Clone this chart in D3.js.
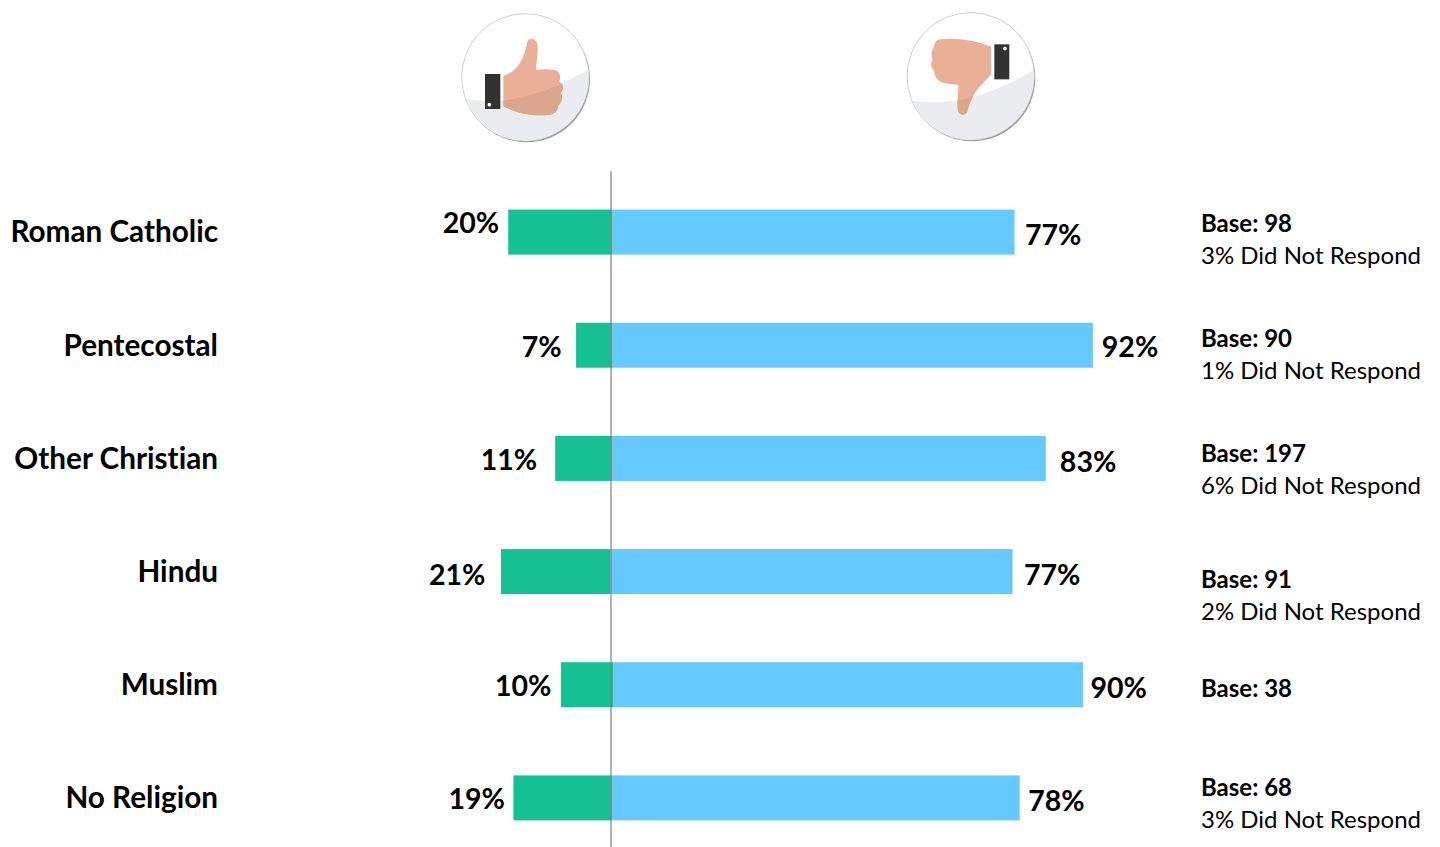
<!DOCTYPE html>
<html>
<head>
<meta charset="utf-8">
<title>Approval by religious group</title>
<script src="https://cdn.jsdelivr.net/npm/d3@7"></script>
<style>
  html, body { margin: 0; padding: 0; background: #fff; overflow: hidden; }
  svg { display: block; }
  text { font-family: Lato, "Open Sans", sans-serif; fill: #000; font-variant-ligatures: none; }
</style>
</head>
<body>
<svg id="chart" width="1440" height="847"></svg>
<script>
// Survey results
const categories = ["Roman Catholic", "Pentecostal", "Other Christian", "Hindu", "Muslim", "No Religion"];
const approve = [20, 7, 11, 21, 10, 19];
const disapprove = [77, 92, 83, 77, 90, 78];
const bases = [98, 90, 197, 91, 38, 68];
const noResponse = [3, 1, 6, 2, null, 3];

// Hand-placed label adjustments, one per row
const approveLabelShift = [[-9, -9], [-14.5, 2], [-18, 2], [-15.5, 3], [-9.5, 1], [-8.5, 1]];
const disapproveLabelShift = [[10.5, 3], [9, 2], [14, 4], [11.5, 3], [7.5, 3], [8.5, 3]];
const noteCentre = [239.5, 354.5, 469.5, 595.5, 688.5, 803.5];
const baselineNudge = [0, 0, 0, -2, 0.5, 0];

const svg = d3.select("#chart");
const zeroX = 612.6;
const pxPerPoint = 5.22;
const x = d3.scaleLinear().domain([-100, 100]).range([zeroX - 100 * pxPerPoint, zeroX + 100 * pxPerPoint]);
const y = d3.scaleBand().domain(categories).range([175.5, 854.5]).paddingInner(0.6).paddingOuter(0.3);
const bandH = 45;
const rowY = c => y(c) + y.bandwidth() / 2 - bandH / 2;

const defs = svg.append("defs");
defs.append("filter").attr("id", "soft").append("feGaussianBlur").attr("stdDeviation", 1.6);

// Thumb icons, drawn in a 170×160 box at triple scale
function icon(g, cx, cy, hand, cuff, dot, shade, id) {
  defs.append("clipPath").attr("id", id).append("path").attr("d", shade);
  defs.append("clipPath").attr("id", id + "-disc").append("circle").attr("cx", cx).attr("cy", cy).attr("r", 190);
  g.attr("filter", "url(#soft)");
  g.append("circle").attr("cx", cx + 4).attr("cy", cy + 5).attr("r", 190).attr("fill", "#9d9d9d");
  g.append("circle").attr("cx", cx).attr("cy", cy).attr("r", 191).attr("fill", "#fff").attr("stroke", "#c4c4c4").attr("stroke-width", 2.5);
  g.append("path").attr("d", shade).attr("fill", "#eaecef").attr("clip-path", `url(#${id}-disc)`);
  g.append("path").attr("d", hand).attr("fill", "#e9b097");
  g.append("path").attr("d", hand).attr("fill", "#dca68e").attr("clip-path", `url(#${id})`);
  g.append("rect").attr("x", cuff[0]).attr("y", cuff[1]).attr("width", cuff[2]).attr("height", cuff[3]).attr("fill", "#333");
  g.append("circle").attr("cx", dot[0]).attr("cy", dot[1]).attr("r", 5.5).attr("fill", "#fff");
}

const up = svg.append("g").attr("transform", "translate(440,-1) scale(0.3333)");
icon(up, 256, 235,
  "M190,231 C225,218 250,193 262,128 C265,116 285,115 292,133 C296,163 288,193 288,213 C310,209 340,211 350,215 C362,221 362,238 358,248 C372,253 372,273 362,281 C370,293 365,313 355,318 C355,333 345,348 320,348 C270,353 220,338 190,321 Z",
  [135, 225, 46, 105], [148, 317],
  "M70,298 C190,323 320,288 450,208 L450,443 L70,443 Z", "shade-up");

const down = svg.append("g").attr("transform", "translate(890,-1) scale(0.3333)");
icon(down, 242, 232,
  "M303,143 C260,123 190,115 150,121 C130,125 135,143 128,153 C120,163 128,178 128,183 C118,193 125,208 132,213 C132,228 140,248 165,253 L205,258 C205,283 200,323 205,338 C212,351 228,348 232,338 C240,303 255,273 303,228 Z",
  [313, 136, 45, 105], [345, 149],
  "M50,301 C170,328 300,293 440,208 L440,443 L50,443 Z", "shade-down");

const rows = svg.append("g").selectAll("g").data(categories).join("g");

// Bars on either side of the shared baseline
rows.append("rect")
  .attr("x", (c, i) => x(-approve[i]) + baselineNudge[i])
  .attr("y", rowY).attr("height", bandH)
  .attr("width", (c, i) => x(0) - x(-approve[i]))
  .attr("fill", "#14c192");
rows.append("rect")
  .attr("x", (c, i) => x(0) + baselineNudge[i])
  .attr("y", rowY).attr("height", bandH)
  .attr("width", (c, i) => x(disapprove[i]) - x(0))
  .attr("fill", "#65c9ff");

// Row names
rows.append("text")
  .attr("x", 218).attr("y", c => rowY(c) + bandH / 2)
  .attr("dy", "0.35em").attr("text-anchor", "end")
  .attr("font-size", 29.7).attr("font-weight", 700)
  .text(c => c);

// Value labels
rows.append("text")
  .attr("x", (c, i) => x(-approve[i]) + baselineNudge[i] + approveLabelShift[i][0])
  .attr("y", (c, i) => rowY(c) + bandH / 2 + approveLabelShift[i][1])
  .attr("dy", "0.35em").attr("text-anchor", "end")
  .attr("font-size", 28.5).attr("font-weight", 700)
  .text((c, i) => approve[i] + "%");
rows.append("text")
  .attr("x", (c, i) => x(disapprove[i]) + baselineNudge[i] + disapproveLabelShift[i][0])
  .attr("y", (c, i) => rowY(c) + bandH / 2 + disapproveLabelShift[i][1])
  .attr("dy", "0.35em")
  .attr("font-size", 28.5).attr("font-weight", 700)
  .text((c, i) => disapprove[i] + "%");

// Sample notes
rows.append("text")
  .attr("x", 1201)
  .attr("y", (c, i) => noteCentre[i] - (noResponse[i] === null ? 0 : 16))
  .attr("dy", "0.35em")
  .attr("font-size", 24).attr("font-weight", 700)
  .text((c, i) => "Base: " + bases[i]);
rows.filter((c, i) => noResponse[i] !== null).append("text")
  .attr("x", 1201)
  .attr("y", c => noteCentre[categories.indexOf(c)] + 16)
  .attr("dy", "0.35em")
  .attr("font-size", 24)
  .text(c => noResponse[categories.indexOf(c)] + "% Did Not Respond");

// Shared zero line
svg.append("line")
  .attr("x1", 611).attr("x2", 611).attr("y1", 171).attr("y2", 847)
  .attr("stroke", "#808080").attr("stroke-width", 1.2);
</script>
</body>
</html>
